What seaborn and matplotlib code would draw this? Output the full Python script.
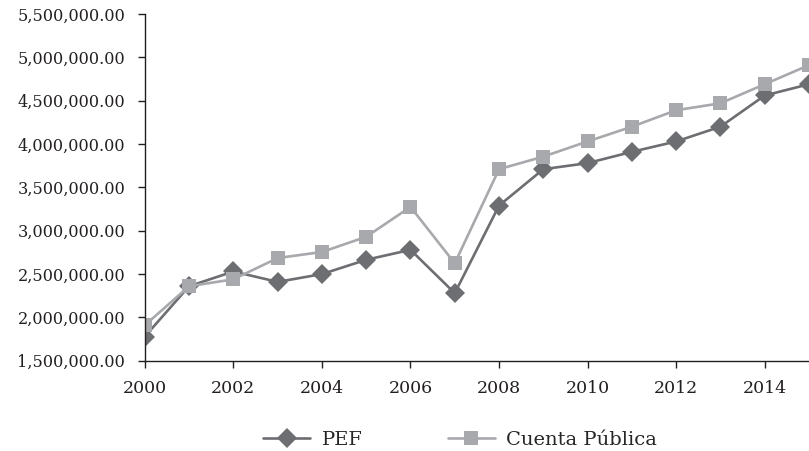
import matplotlib
matplotlib.use("Agg")
import matplotlib.pyplot as plt
import matplotlib.ticker as mticker
import seaborn as sns
import pandas as pd

years = list(range(2000, 2016))
pef = [1780000, 2360000, 2530000, 2410000, 2500000, 2665000, 2780000, 2280000,
       3290000, 3710000, 3780000, 3910000, 4030000, 4200000, 4560000, 4690000]
cuenta_publica = [1910000, 2360000, 2440000, 2685000, 2755000, 2930000, 3275000, 2625000,
                  3710000, 3855000, 4030000, 4200000, 4390000, 4470000, 4690000, 4910000]
series_names = ["PEF", "Cuenta Pública"]
y_ticks = [1500000, 2000000, 2500000, 3000000, 3500000, 4000000, 4500000, 5000000, 5500000]
x_ticks = list(range(2000, 2015, 2))

df = pd.DataFrame({
    "year": years * 2,
    "value": pef + cuenta_publica,
    "series": [series_names[0]] * len(years) + [series_names[1]] * len(years),
})

sns.set_style("ticks")
plt.rcParams["font.family"] = ["DejaVu Serif"]

fig = plt.figure(figsize=(8.09, 4.51), dpi=100)
ax = fig.add_axes([0.179, 0.200, 0.821, 0.769])

palette = {"PEF": "#6d6e71", "Cuenta Pública": "#a7a9ac"}
sns.lineplot(data=df, x="year", y="value", hue="series", style="series",
             markers={"PEF": "D", "Cuenta Pública": "s"}, dashes=False,
             palette=palette, linewidth=1.9, markersize=10.5, markeredgewidth=0,
             ax=ax, legend=True)
# square markers a touch smaller than the diamonds
for line in ax.lines:
    if line.get_marker() == "s":
        line.set_markersize(9.5)

ax.set_xlim(2000, 2015)
ax.set_ylim(1500000, 5500000)
ax.set_xticks(x_ticks)
ax.set_yticks(y_ticks)
ax.yaxis.set_major_formatter(mticker.FuncFormatter(lambda v, p: f"{v:,.2f}"))
ax.set_xlabel("")
ax.set_ylabel("")
ax.tick_params(axis="both", colors="#231f20", length=5, width=1, labelcolor="#231f20")
ax.tick_params(axis="x", pad=9, labelsize=12.5)
ax.tick_params(axis="y", pad=9, labelsize=11.6)
for side in ["top", "right"]:
    ax.spines[side].set_visible(False)
for side in ["left", "bottom"]:
    ax.spines[side].set_color("#231f20")
    ax.spines[side].set_linewidth(1)

handles, labels = ax.get_legend_handles_labels()
ax.legend(handles=handles, labels=labels, ncol=2, frameon=False,
          fontsize=14, handlelength=2.4, handletextpad=0.6, columnspacing=4.4,
          loc="center", bbox_to_anchor=(0.569, 0.024), bbox_transform=fig.transFigure)

fig.savefig("out.png", dpi=100)
